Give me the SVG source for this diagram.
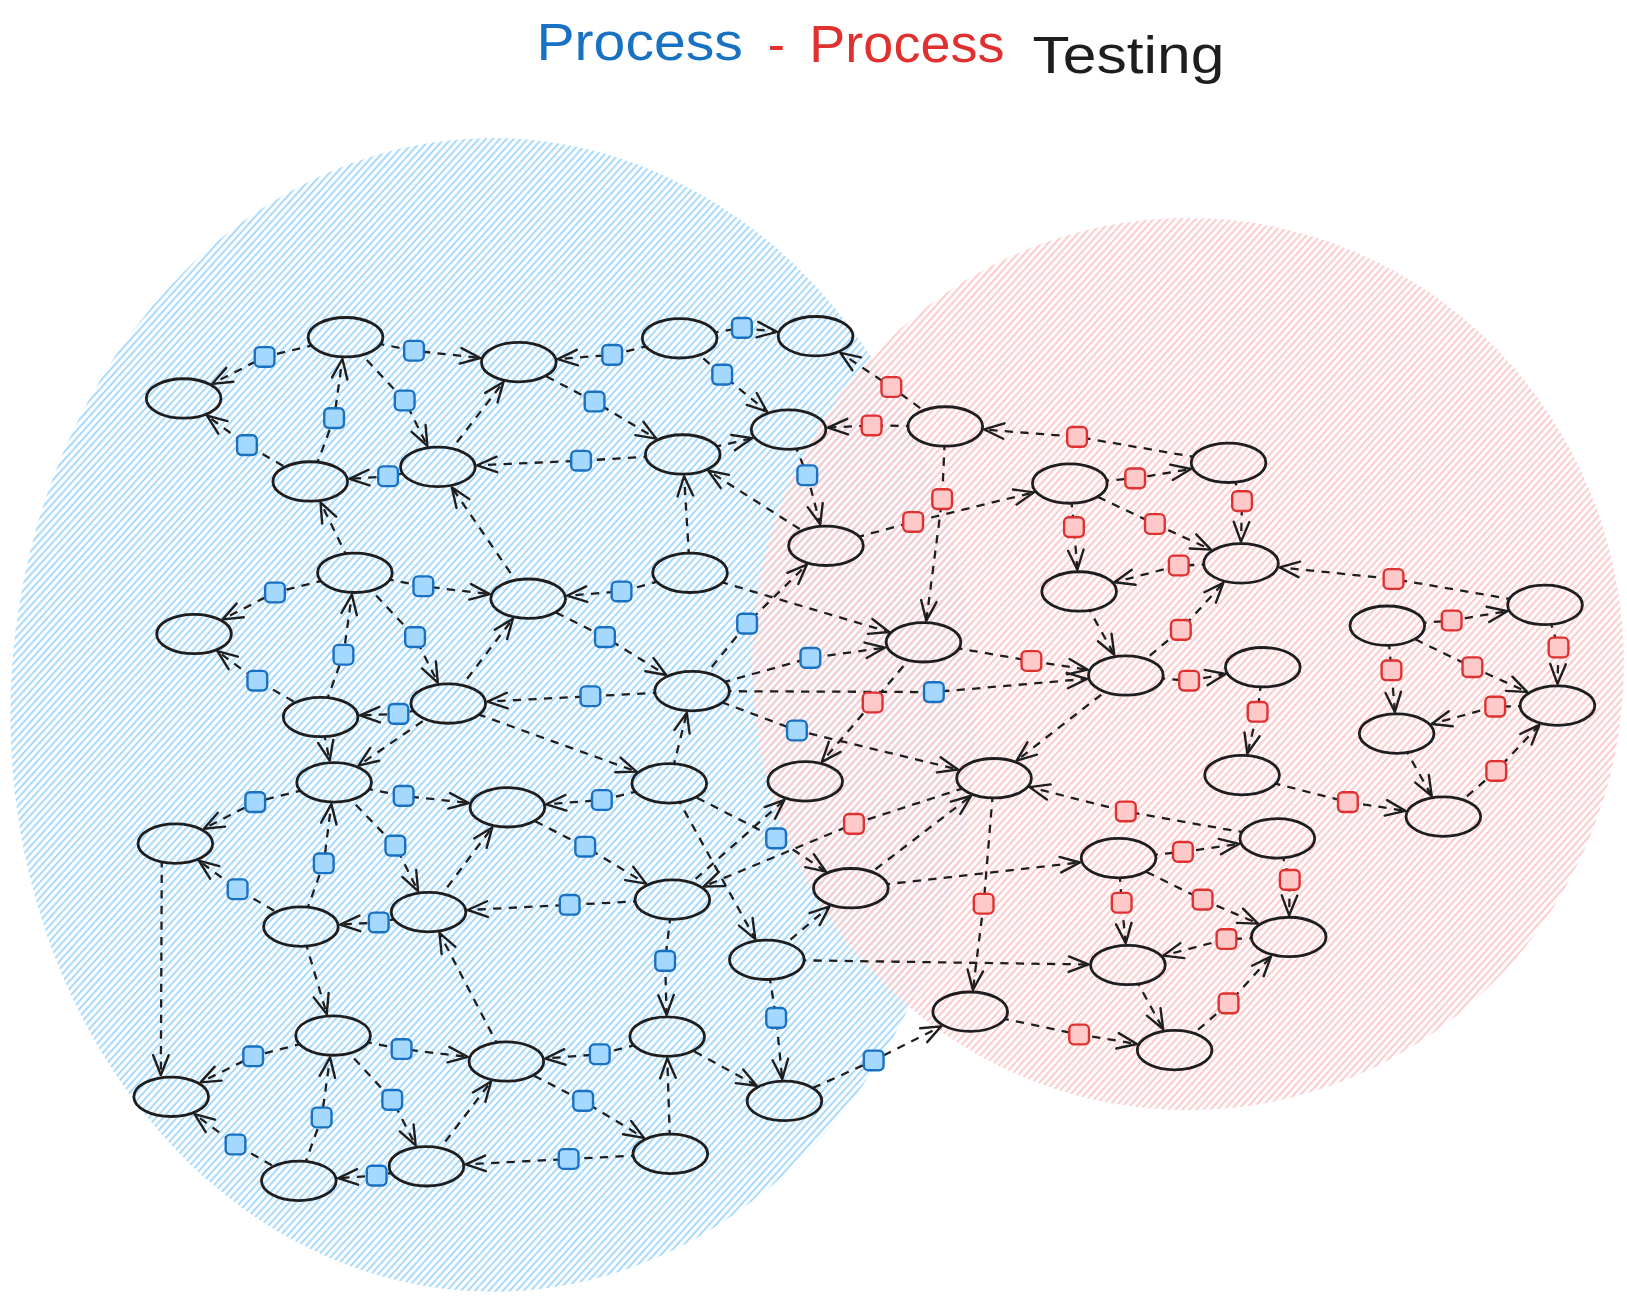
<svg xmlns="http://www.w3.org/2000/svg" width="1627" height="1299" viewBox="0 0 1627 1299">
<style>
.node ellipse{fill:none;stroke:#1e1e1e;stroke-width:2.7}
.edge{fill:none;stroke:#1e1e1e;stroke-width:2.2;stroke-dasharray:8 7;marker-end:url(#ah)}
.title{font-family:"Liberation Sans","DejaVu Sans",sans-serif;font-size:50px}
</style>
<defs>
<pattern id="hb" patternUnits="userSpaceOnUse" width="5" height="10" patternTransform="rotate(42)"><line x1="2.5" y1="0" x2="2.5" y2="10" stroke="#a5d8ff" stroke-width="1.9"/></pattern>
<pattern id="hr" patternUnits="userSpaceOnUse" width="5" height="10" patternTransform="rotate(42)"><line x1="2.5" y1="0" x2="2.5" y2="10" stroke="#ffc9c9" stroke-width="1.9"/></pattern>
<marker id="ah" markerUnits="userSpaceOnUse" markerWidth="40" markerHeight="40" refX="0" refY="0" orient="auto" overflow="visible"><path d="M-19,-7.5 L0,0 L-19,7.5" fill="none" stroke="#1e1e1e" stroke-width="2.3" stroke-dasharray="none" stroke-linecap="round" stroke-linejoin="round"/></marker>
<rect id="sqb" x="-9.5" y="-9.5" width="19" height="19" rx="4.5" fill="#a5d8ff" stroke="#1971c2" stroke-width="2.3"/>
<rect id="sqr" x="-9.5" y="-9.5" width="19" height="19" rx="4.5" fill="#ffc9c9" stroke="#e03131" stroke-width="2.3"/>
<mask id="nm" maskUnits="userSpaceOnUse" x="-20" y="-20" width="1700" height="1400">
<rect x="-20" y="-20" width="1700" height="1400" fill="#fff"/>
<g fill="#000">
<ellipse cx="333" cy="325" rx="36" ry="19"/><ellipse cx="177" cy="384" rx="36" ry="19"/><ellipse cx="500" cy="349" rx="36" ry="19"/><ellipse cx="655" cy="326" rx="36" ry="19"/><ellipse cx="786" cy="324" rx="36" ry="19"/><ellipse cx="299" cy="464" rx="36" ry="19"/><ellipse cx="422" cy="450" rx="36" ry="19"/><ellipse cx="658" cy="438" rx="36" ry="19"/><ellipse cx="760" cy="414" rx="36" ry="19"/><ellipse cx="911" cy="411" rx="36" ry="19"/><ellipse cx="1031" cy="466" rx="36" ry="19"/><ellipse cx="1184" cy="446" rx="36" ry="19"/><ellipse cx="796" cy="526" rx="36" ry="19"/><ellipse cx="342" cy="552" rx="36" ry="19"/><ellipse cx="187" cy="611" rx="36" ry="19"/><ellipse cx="509" cy="577" rx="36" ry="19"/><ellipse cx="665" cy="552" rx="36" ry="19"/><ellipse cx="1040" cy="570" rx="36" ry="19"/><ellipse cx="1196" cy="543" rx="36" ry="19"/><ellipse cx="1489" cy="583" rx="36" ry="19"/><ellipse cx="1337" cy="603" rx="36" ry="19"/><ellipse cx="890" cy="619" rx="36" ry="19"/><ellipse cx="309" cy="691" rx="36" ry="19"/><ellipse cx="432" cy="678" rx="36" ry="19"/><ellipse cx="667" cy="666" rx="36" ry="19"/><ellipse cx="1085" cy="651" rx="36" ry="19"/><ellipse cx="1217" cy="643" rx="36" ry="19"/><ellipse cx="1501" cy="680" rx="36" ry="19"/><ellipse cx="1346" cy="707" rx="36" ry="19"/><ellipse cx="322" cy="754" rx="36" ry="19"/><ellipse cx="169" cy="813" rx="36" ry="19"/><ellipse cx="489" cy="778" rx="36" ry="19"/><ellipse cx="645" cy="755" rx="36" ry="19"/><ellipse cx="776" cy="753" rx="36" ry="19"/><ellipse cx="958" cy="750" rx="36" ry="19"/><ellipse cx="1197" cy="747" rx="36" ry="19"/><ellipse cx="1391" cy="787" rx="36" ry="19"/><ellipse cx="1078" cy="827" rx="36" ry="19"/><ellipse cx="1231" cy="808" rx="36" ry="19"/><ellipse cx="820" cy="856" rx="36" ry="19"/><ellipse cx="290" cy="893" rx="36" ry="19"/><ellipse cx="413" cy="879" rx="36" ry="19"/><ellipse cx="648" cy="867" rx="36" ry="19"/><ellipse cx="1242" cy="903" rx="36" ry="19"/><ellipse cx="739" cy="925" rx="36" ry="19"/><ellipse cx="1087" cy="930" rx="36" ry="19"/><ellipse cx="935" cy="975" rx="36" ry="19"/><ellipse cx="321" cy="998" rx="36" ry="19"/><ellipse cx="488" cy="1023" rx="36" ry="19"/><ellipse cx="643" cy="999" rx="36" ry="19"/><ellipse cx="165" cy="1057" rx="36" ry="19"/><ellipse cx="756" cy="1061" rx="36" ry="19"/><ellipse cx="1132" cy="1012" rx="36" ry="19"/><ellipse cx="288" cy="1138" rx="36" ry="19"/><ellipse cx="411" cy="1124" rx="36" ry="19"/><ellipse cx="646" cy="1112" rx="36" ry="19"/>
</g>
</mask>
</defs>
<rect width="1627" height="1299" fill="#ffffff"/>
<g transform="scale(1.03763)">
<g id="background">
<ellipse cx="475" cy="689" rx="465" ry="556" fill="url(#hb)"/>
<ellipse cx="1145" cy="640" rx="420" ry="430" fill="url(#hr)"/>
</g>
<g id="title" class="title">
<text x="517" y="58" fill="#1971c2" textLength="199" lengthAdjust="spacingAndGlyphs">Process</text>
<text x="740" y="60" fill="#e03131">-</text>
<text x="780" y="60" fill="#e03131" textLength="188" lengthAdjust="spacingAndGlyphs">Process</text>
<text x="995" y="70" fill="#1e1e1e" textLength="185" lengthAdjust="spacingAndGlyphs">Testing</text>
</g>
<g id="connectors" mask="url(#nm)">
<path class="edge" d="M333,325 L255,344 L204.6,369.9"/>
<path class="edge" d="M299,464 L238,429 L199.5,400.6"/>
<path class="edge" d="M299,464 L322,403 L330,346"/>
<path class="edge" d="M333,325 L399,338 L462.8,345"/>
<path class="edge" d="M333,325 L390,386 L411.9,429.8"/>
<path class="edge" d="M422,450 L485.2,368.2"/>
<path class="edge" d="M422,450 L374,459 L336.7,461.5"/>
<path class="edge" d="M658,438 L560,444 L459.9,448.4"/>
<path class="edge" d="M342,552 L308.9,484.2"/>
<path class="edge" d="M342,552 L265,571 L214.6,596.9"/>
<path class="edge" d="M342,552 L408,565 L472,572.6"/>
<path class="edge" d="M509,577 L435.4,469.6"/>
<path class="edge" d="M655,326 L590,342 L537.5,346.1"/>
<path class="edge" d="M655,326 L715,316 L748.8,319.8"/>
<path class="edge" d="M655,326 L696,361 L739.1,396.6"/>
<path class="edge" d="M500,349 L573,387 L632.5,422.7"/>
<path class="edge" d="M658,438 L725,422.2"/>
<path class="edge" d="M911,411 L859,373 L809.9,340"/>
<path class="edge" d="M911,411 L840,410 L797.9,412.1"/>
<path class="edge" d="M760,414 L778,458 L790.5,505.2"/>
<path class="edge" d="M796,526 L682.6,453.7"/>
<path class="edge" d="M665,552 L659.3,459"/>
<path class="edge" d="M665,552 L599,570 L546.5,574.1"/>
<path class="edge" d="M665,552 L856.8,609.1"/>
<path class="edge" d="M667,666 L781,634 L853,624.1"/>
<path class="edge" d="M667,666 L720,601 L777.6,544.1"/>
<path class="edge" d="M667,666 L569,671 L469.9,676.1"/>
<path class="edge" d="M667,666 L900,667 L1047.5,654.2"/>
<path class="edge" d="M667,666 L768,704 L923.2,741.6"/>
<path class="edge" d="M645,755 L661.9,686.8"/>
<path class="edge" d="M432,678 L613.4,743.6"/>
<path class="edge" d="M645,755 L580,771 L526.5,775.1"/>
<path class="edge" d="M489,778 L564,816 L622.6,851.6"/>
<path class="edge" d="M648,867 L756.1,770.8"/>
<path class="edge" d="M958,750 L823,794 L678.1,854.4"/>
<path class="edge" d="M648,867 L549,872 L450.8,877"/>
<path class="edge" d="M739,925 L799.5,873.5"/>
<path class="edge" d="M739,925 L1049,929.5"/>
<path class="edge" d="M739,925 L748,981 L753.9,1040"/>
<path class="edge" d="M648,867 L641,926 L642.4,978"/>
<path class="edge" d="M646,1112 L643.1,1020"/>
<path class="edge" d="M643,999 L578,1016 L525.5,1020.1"/>
<path class="edge" d="M643,999 L729.3,1046.4"/>
<path class="edge" d="M488,1023 L562,1061 L620.6,1096.6"/>
<path class="edge" d="M646,1112 L548,1117 L448.9,1122.1"/>
<path class="edge" d="M756,1061 L842,1022 L907.1,989.1"/>
<path class="edge" d="M935,975 L1040,997 L1095.7,1006.1"/>
<path class="edge" d="M958,750 L948,871 L937.6,954.1"/>
<path class="edge" d="M1087,930 L1121,991.9"/>
<path class="edge" d="M1132,1012 L1184,967 L1225,921.7"/>
<path class="edge" d="M1242,903 L1182,905 L1121.1,921"/>
<path class="edge" d="M1078,827 L1081,870 L1084.9,909"/>
<path class="edge" d="M1078,827 L1159,867 L1212.4,890.1"/>
<path class="edge" d="M1231,808 L1243,848 L1242.4,882"/>
<path class="edge" d="M1078,827 L1140,821 L1194.4,813.2"/>
<path class="edge" d="M820,856 L1040.8,831.2"/>
<path class="edge" d="M1231,808 L1085,782 L992.3,758.6"/>
<path class="edge" d="M1197,747 L1299,773 L1354.4,781.4"/>
<path class="edge" d="M1085,651 L979.8,733"/>
<path class="edge" d="M890,619 L994,637 L1048.4,645.4"/>
<path class="edge" d="M1040,570 L1073.9,631"/>
<path class="edge" d="M1085,651 L1138,607 L1179,561.7"/>
<path class="edge" d="M1085,651 L1146,656 L1181.1,649.6"/>
<path class="edge" d="M1217,643 L1212,686 L1202.1,726.2"/>
<path class="edge" d="M1337,603 L1399,598 L1452.7,589"/>
<path class="edge" d="M1337,603 L1341,646 L1344.3,686.1"/>
<path class="edge" d="M1337,603 L1419,643 L1471.8,666.8"/>
<path class="edge" d="M1489,583 L1502,624 L1501,659"/>
<path class="edge" d="M1501,680 L1441,681 L1379.8,697.7"/>
<path class="edge" d="M1346,707 L1379.8,767.1"/>
<path class="edge" d="M1391,787 L1442,743 L1483.6,698.6"/>
<path class="edge" d="M1489,583 L1343,558 L1233.3,546.8"/>
<path class="edge" d="M1184,446 L1197,483 L1196,522"/>
<path class="edge" d="M1184,446 L1038,421 L948.5,413.9"/>
<path class="edge" d="M1031,466 L1094,461 L1147.7,452"/>
<path class="edge" d="M1031,466 L1035,508 L1038.3,549.1"/>
<path class="edge" d="M1031,466 L1113,505 L1167,529.7"/>
<path class="edge" d="M1196,543 L1136,545 L1074.2,561.1"/>
<path class="edge" d="M796,526 L880,503 L996.4,474.5"/>
<path class="edge" d="M911,411 L908,481 L892.7,598.1"/>
<path class="edge" d="M890,619 L841,677 L792.1,734.2"/>
<path class="edge" d="M509,577 L583,614 L642,650.5"/>
<path class="edge" d="M645,755 L727.9,905"/>
<path class="edge" d="M645,755 L748,808 L796,840"/>
<path class="edge" d="M820,856 L936,766.9"/>
<path class="edge" d="M309,691 L248,656 L209.5,627.6"/>
<path class="edge" d="M309,691 L331,631 L339.1,573"/>
<path class="edge" d="M342,552 L400,614 L421.9,657.8"/>
<path class="edge" d="M432,678 L494.3,596.3"/>
<path class="edge" d="M432,678 L384,688 L346.9,689.5"/>
<path class="edge" d="M309,691 L317.7,733.1"/>
<path class="edge" d="M432,678 L345.5,737.8"/>
<path class="edge" d="M322,754 L246,773 L196.5,798.7"/>
<path class="edge" d="M322,754 L389,767 L451.8,773.9"/>
<path class="edge" d="M322,754 L381,815 L402.9,858.8"/>
<path class="edge" d="M290,893 L312,832 L319.3,774.9"/>
<path class="edge" d="M290,893 L229,857 L191.6,829.5"/>
<path class="edge" d="M413,879 L474.4,797.4"/>
<path class="edge" d="M156,813 L155,1036"/>
<path class="edge" d="M413,879 L365,889 L327.8,891"/>
<path class="edge" d="M290,893 L314.9,977.3"/>
<path class="edge" d="M488,1023 L423.5,899.1"/>
<path class="edge" d="M321,998 L244,1018 L193.2,1043.1"/>
<path class="edge" d="M321,998 L387,1011 L451,1018.6"/>
<path class="edge" d="M321,998 L378,1060 L400.6,1103.9"/>
<path class="edge" d="M288,1138 L310,1077 L318.1,1019"/>
<path class="edge" d="M288,1138 L227,1103 L187.5,1073.7"/>
<path class="edge" d="M411,1124 L363,1133 L325.7,1135.5"/>
<path class="edge" d="M411,1124 L473.3,1042.3"/>
</g>
<g id="tokens">
<use href="#sqb" x="255" y="344"/><use href="#sqb" x="238" y="429"/><use href="#sqb" x="322" y="403"/><use href="#sqb" x="399" y="338"/><use href="#sqb" x="390" y="386"/><use href="#sqb" x="374" y="459"/><use href="#sqb" x="560" y="444"/><use href="#sqb" x="265" y="571"/><use href="#sqb" x="408" y="565"/><use href="#sqb" x="590" y="342"/><use href="#sqb" x="715" y="316"/><use href="#sqb" x="696" y="361"/><use href="#sqb" x="573" y="387"/><use href="#sqb" x="778" y="458"/><use href="#sqb" x="599" y="570"/><use href="#sqb" x="781" y="634"/><use href="#sqb" x="720" y="601"/><use href="#sqb" x="569" y="671"/><use href="#sqb" x="900" y="667"/><use href="#sqb" x="768" y="704"/><use href="#sqb" x="580" y="771"/><use href="#sqb" x="564" y="816"/><use href="#sqb" x="549" y="872"/><use href="#sqb" x="748" y="981"/><use href="#sqb" x="641" y="926"/><use href="#sqb" x="578" y="1016"/><use href="#sqb" x="562" y="1061"/><use href="#sqb" x="548" y="1117"/><use href="#sqb" x="842" y="1022"/><use href="#sqb" x="583" y="614"/><use href="#sqb" x="748" y="808"/><use href="#sqb" x="248" y="656"/><use href="#sqb" x="331" y="631"/><use href="#sqb" x="400" y="614"/><use href="#sqb" x="384" y="688"/><use href="#sqb" x="246" y="773"/><use href="#sqb" x="389" y="767"/><use href="#sqb" x="381" y="815"/><use href="#sqb" x="312" y="832"/><use href="#sqb" x="229" y="857"/><use href="#sqb" x="365" y="889"/><use href="#sqb" x="244" y="1018"/><use href="#sqb" x="387" y="1011"/><use href="#sqb" x="378" y="1060"/><use href="#sqb" x="310" y="1077"/><use href="#sqb" x="227" y="1103"/><use href="#sqb" x="363" y="1133"/>
<use href="#sqr" x="859" y="373"/><use href="#sqr" x="840" y="410"/><use href="#sqr" x="823" y="794"/><use href="#sqr" x="1040" y="997"/><use href="#sqr" x="948" y="871"/><use href="#sqr" x="1184" y="967"/><use href="#sqr" x="1182" y="905"/><use href="#sqr" x="1081" y="870"/><use href="#sqr" x="1159" y="867"/><use href="#sqr" x="1243" y="848"/><use href="#sqr" x="1140" y="821"/><use href="#sqr" x="1085" y="782"/><use href="#sqr" x="1299" y="773"/><use href="#sqr" x="994" y="637"/><use href="#sqr" x="1138" y="607"/><use href="#sqr" x="1146" y="656"/><use href="#sqr" x="1212" y="686"/><use href="#sqr" x="1399" y="598"/><use href="#sqr" x="1341" y="646"/><use href="#sqr" x="1419" y="643"/><use href="#sqr" x="1502" y="624"/><use href="#sqr" x="1441" y="681"/><use href="#sqr" x="1442" y="743"/><use href="#sqr" x="1343" y="558"/><use href="#sqr" x="1197" y="483"/><use href="#sqr" x="1038" y="421"/><use href="#sqr" x="1094" y="461"/><use href="#sqr" x="1035" y="508"/><use href="#sqr" x="1113" y="505"/><use href="#sqr" x="1136" y="545"/><use href="#sqr" x="880" y="503"/><use href="#sqr" x="908" y="481"/><use href="#sqr" x="841" y="677"/>
</g>
<g id="nodes">
<g id="n1" class="node"><ellipse cx="333" cy="325" rx="36" ry="19"/></g>
<g id="n2" class="node"><ellipse cx="177" cy="384" rx="36" ry="19"/></g>
<g id="n3" class="node"><ellipse cx="500" cy="349" rx="36" ry="19"/></g>
<g id="n4" class="node"><ellipse cx="655" cy="326" rx="36" ry="19"/></g>
<g id="n5" class="node"><ellipse cx="786" cy="324" rx="36" ry="19"/></g>
<g id="n6" class="node"><ellipse cx="299" cy="464" rx="36" ry="19"/></g>
<g id="n7" class="node"><ellipse cx="422" cy="450" rx="36" ry="19"/></g>
<g id="n8" class="node"><ellipse cx="658" cy="438" rx="36" ry="19"/></g>
<g id="n9" class="node"><ellipse cx="760" cy="414" rx="36" ry="19"/></g>
<g id="n10" class="node"><ellipse cx="911" cy="411" rx="36" ry="19"/></g>
<g id="n11" class="node"><ellipse cx="1031" cy="466" rx="36" ry="19"/></g>
<g id="n12" class="node"><ellipse cx="1184" cy="446" rx="36" ry="19"/></g>
<g id="n13" class="node"><ellipse cx="796" cy="526" rx="36" ry="19"/></g>
<g id="n14" class="node"><ellipse cx="342" cy="552" rx="36" ry="19"/></g>
<g id="n15" class="node"><ellipse cx="187" cy="611" rx="36" ry="19"/></g>
<g id="n16" class="node"><ellipse cx="509" cy="577" rx="36" ry="19"/></g>
<g id="n17" class="node"><ellipse cx="665" cy="552" rx="36" ry="19"/></g>
<g id="n18" class="node"><ellipse cx="1040" cy="570" rx="36" ry="19"/></g>
<g id="n19" class="node"><ellipse cx="1196" cy="543" rx="36" ry="19"/></g>
<g id="n20" class="node"><ellipse cx="1489" cy="583" rx="36" ry="19"/></g>
<g id="n21" class="node"><ellipse cx="1337" cy="603" rx="36" ry="19"/></g>
<g id="n22" class="node"><ellipse cx="890" cy="619" rx="36" ry="19"/></g>
<g id="n23" class="node"><ellipse cx="309" cy="691" rx="36" ry="19"/></g>
<g id="n24" class="node"><ellipse cx="432" cy="678" rx="36" ry="19"/></g>
<g id="n25" class="node"><ellipse cx="667" cy="666" rx="36" ry="19"/></g>
<g id="n26" class="node"><ellipse cx="1085" cy="651" rx="36" ry="19"/></g>
<g id="n27" class="node"><ellipse cx="1217" cy="643" rx="36" ry="19"/></g>
<g id="n28" class="node"><ellipse cx="1501" cy="680" rx="36" ry="19"/></g>
<g id="n29" class="node"><ellipse cx="1346" cy="707" rx="36" ry="19"/></g>
<g id="n30" class="node"><ellipse cx="322" cy="754" rx="36" ry="19"/></g>
<g id="n31" class="node"><ellipse cx="169" cy="813" rx="36" ry="19"/></g>
<g id="n32" class="node"><ellipse cx="489" cy="778" rx="36" ry="19"/></g>
<g id="n33" class="node"><ellipse cx="645" cy="755" rx="36" ry="19"/></g>
<g id="n34" class="node"><ellipse cx="776" cy="753" rx="36" ry="19"/></g>
<g id="n35" class="node"><ellipse cx="958" cy="750" rx="36" ry="19"/></g>
<g id="n36" class="node"><ellipse cx="1197" cy="747" rx="36" ry="19"/></g>
<g id="n37" class="node"><ellipse cx="1391" cy="787" rx="36" ry="19"/></g>
<g id="n38" class="node"><ellipse cx="1078" cy="827" rx="36" ry="19"/></g>
<g id="n39" class="node"><ellipse cx="1231" cy="808" rx="36" ry="19"/></g>
<g id="n40" class="node"><ellipse cx="820" cy="856" rx="36" ry="19"/></g>
<g id="n41" class="node"><ellipse cx="290" cy="893" rx="36" ry="19"/></g>
<g id="n42" class="node"><ellipse cx="413" cy="879" rx="36" ry="19"/></g>
<g id="n43" class="node"><ellipse cx="648" cy="867" rx="36" ry="19"/></g>
<g id="n44" class="node"><ellipse cx="1242" cy="903" rx="36" ry="19"/></g>
<g id="n45" class="node"><ellipse cx="739" cy="925" rx="36" ry="19"/></g>
<g id="n46" class="node"><ellipse cx="1087" cy="930" rx="36" ry="19"/></g>
<g id="n47" class="node"><ellipse cx="935" cy="975" rx="36" ry="19"/></g>
<g id="n48" class="node"><ellipse cx="321" cy="998" rx="36" ry="19"/></g>
<g id="n49" class="node"><ellipse cx="488" cy="1023" rx="36" ry="19"/></g>
<g id="n50" class="node"><ellipse cx="643" cy="999" rx="36" ry="19"/></g>
<g id="n51" class="node"><ellipse cx="165" cy="1057" rx="36" ry="19"/></g>
<g id="n52" class="node"><ellipse cx="756" cy="1061" rx="36" ry="19"/></g>
<g id="n53" class="node"><ellipse cx="1132" cy="1012" rx="36" ry="19"/></g>
<g id="n54" class="node"><ellipse cx="288" cy="1138" rx="36" ry="19"/></g>
<g id="n55" class="node"><ellipse cx="411" cy="1124" rx="36" ry="19"/></g>
<g id="n56" class="node"><ellipse cx="646" cy="1112" rx="36" ry="19"/></g>
</g>
</g>
</svg>
